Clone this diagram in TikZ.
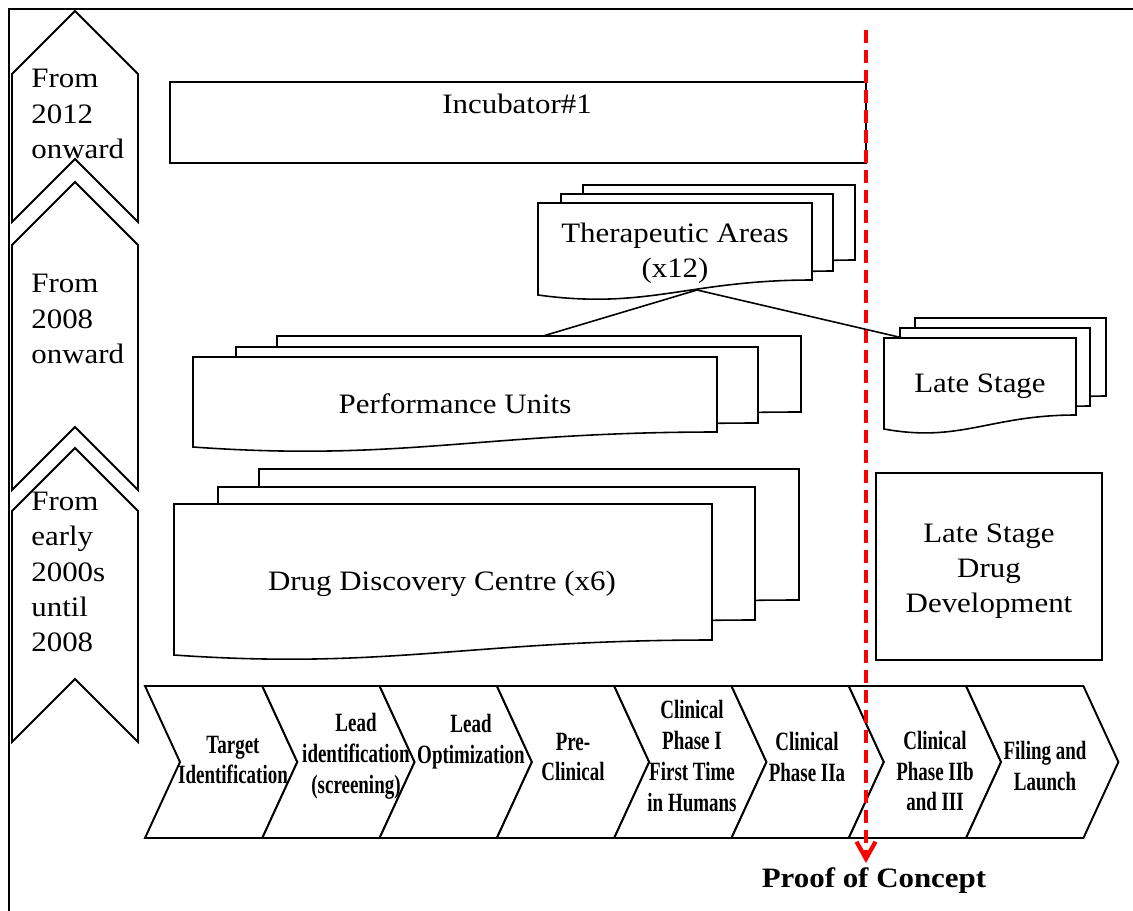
\documentclass[tikz,border=0pt]{standalone}
\usepackage{fontspec}
\setmainfont{Liberation Serif}
\newfontfamily\bookfont[FakeStretch=1.1]{Liberation Serif}
\newfontfamily\narrowfont[FakeStretch=0.72]{Liberation Serif}
\usepackage{tikz}
\usetikzlibrary{shapes.geometric, arrows.meta}
\tikzstyle{frame} = [line width=1.2pt]
\tikzstyle{era} = [draw=black, 
fill=white, 
line width=1.1pt]
\tikzstyle{eralabel} = [anchor=west, 
align=left, 
inner sep=0pt, 
font=\bookfont\fontsize{16}{20}\selectfont]
\tikzstyle{doc} = [draw=black, fill=white, line width=0.9pt]
\tikzstyle{doclabel} = [align=center, 
inner sep=0pt, 
font=\bookfont\fontsize{16}{20}\selectfont]
\tikzstyle{stage} = [draw=black, fill=white, line width=1.1pt]
\tikzstyle{stagelabel} = [align=center, 
inner sep=0pt, 
font=\narrowfont\bfseries\fontsize{15}{17.6}\selectfont]
\tikzstyle{link} = [line width=0.9pt]
\tikzstyle{poc} = [red, line width=2.4pt, dash pattern=on 0.26cm off 0.14cm, 
-{Straight Barb[length=3.4mm,width=3.8mm]}]
% tip y, shoulder y, corner y, notch y
\newcommand{\eraarrow}[4]{\draw[era] (75,#1) -- (138,#2) -- (138,#3) -- (75,#4) -- (12,#3) -- (12,#2) -- cycle;}
% left, top, right, bottom right, bottom left
\newcommand{\docpath}[5]{%
\pgfmathsetmacro{\docxa}{#1+0.4*(#3-#1)}%
\pgfmathsetmacro{\docxb}{#1+0.55*(#3-#1)}%
\pgfmathsetmacro{\docyd}{#5+(#5-#4)}%
\draw[doc] (#1,#5) -- (#1,#2) -- (#3,#2) -- (#3,#4) .. controls (\docxb,#4) and (\docxa,\docyd) .. (#1,#5) -- cycle;}
\newcommand{\stagepath}[2]{\draw[stage] (#1,686) -- (#2,686) -- ++(35,76) -- (#2,838) -- (#1,838) -- ++(35,-76) -- cycle;}
\begin{document}
\begin{tikzpicture}[x=0.02cm, y=-0.02cm]
\useasboundingbox (0,0) rectangle (1133,910);
\draw[frame] (9,915) -- (9,9) -- (1140,9);

\eraarrow{11}{74}{222}{159}
\eraarrow{182}{245}{490}{427}
\eraarrow{448}{511}{742}{679}
\node (era1) [eralabel] at (31,114) {From\\2012\\onward};
\node (era2) [eralabel] at (31,319) {From\\2008\\onward};
\node (era3) [eralabel] at (31,572) {From\\early\\2000s\\until\\2008};

\draw[doc] (170,82) rectangle (866,163);
\node (inc) [doclabel] at (517,104) {Incubator\#1};

\docpath{583}{185}{855}{260}{275}
\docpath{561}{194}{833}{271}{286}
\docpath{538}{203}{812}{280}{295}
\node (ta) [doclabel] at (675,253) {Therapeutic Areas\\(x12)};

\docpath{277}{336}{801}{412}{427}
\docpath{236}{347}{758}{423}{438}
\docpath{193}{357}{717}{432}{447}
\node (pu) [doclabel] at (455,404) {Performance Units};

\docpath{915}{318}{1106}{396}{410}
\docpath{900}{328}{1090}{406}{420}
\docpath{884}{338}{1076}{415}{429}
\node (ls) [doclabel] at (980,386) {Late Stage};

\docpath{259}{469}{799}{600}{615}
\docpath{218}{487}{755}{620}{635}
\docpath{174}{504}{712}{640}{655}
\node (ddc) [doclabel] at (442,584) {Drug Discovery Centre (x6)};

\draw[doc] (876,473) rectangle (1102,660);
\node (lsdd) [doclabel] at (989,571) {Late Stage\\Drug\\Development};

\coordinate (ta-foot) at (697,290);
\coordinate (pu-head) at (543,336);
\coordinate (ls-head) at (903,338);
\draw[link] (ta-foot) -- (pu-head);
\draw[link] (ta-foot) -- (ls-head);

\stagepath{145}{262.3}
\stagepath{262.3}{379.6}
\stagepath{379.6}{496.9}
\stagepath{496.9}{614.2}
\stagepath{614.2}{731.5}
\stagepath{731.5}{848.8}
\stagepath{848.8}{966.1}
\stagepath{966.1}{1083.4}
\node (s1) [stagelabel] at (233,760) {Target\\Identification};
\node (s2) [stagelabel] at (356,756) {Lead\\identification\\(screening)};
\node (s3) [stagelabel] at (471,742) {Lead\\Optimization};
\node (s4) [stagelabel] at (573,757) {Pre-\\Clinical};
\node (s5) [stagelabel] at (692,756) {Clinical\\Phase I\\First Time\\in Humans};
\node (s6) [stagelabel] at (807,757) {Clinical\\Phase IIa};
\node (s7) [stagelabel] at (935,771) {Clinical\\Phase IIb\\and III};
\node (s8) [stagelabel] at (1045,766) {Filing and\\Launch};

\coordinate (poc-top) at (866,30);
\coordinate (poc-tip) at (866,863);
\draw[poc] (poc-top) -- (poc-tip);
\node (poc) [font=\bookfont\bfseries\fontsize{16}{20}\selectfont] at (874,881) {Proof of Concept};
\end{tikzpicture}
\end{document}
